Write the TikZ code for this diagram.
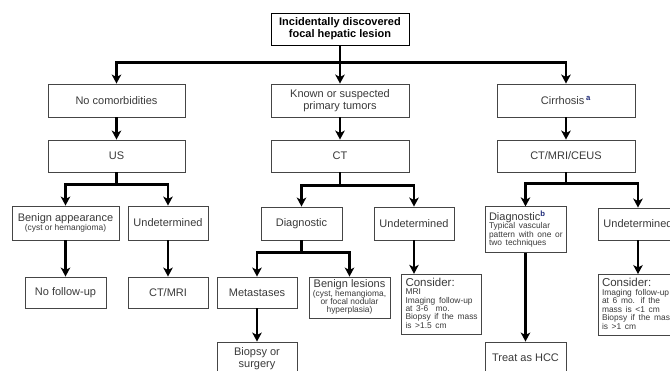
\documentclass[tikz,border=0pt]{standalone}
\usepackage{fontspec}
\setmainfont{Liberation Sans}
\usetikzlibrary{arrows.meta}
\definecolor{txt}{HTML}{3A3A3A}
\definecolor{edge}{HTML}{454545}
\definecolor{supc}{HTML}{1E2A78}
\newcommand{\smalltxt}{\fontsize{8.4}{7.9}\selectfont}
\newcommand{\bigtxt}{\fontsize{11}{12}\selectfont}
\newcommand{\midtxt}{\fontsize{11.5}{12}\selectfont}
\newcommand{\supmark}[1]{\textsuperscript{\textcolor{supc}{\textbf{#1}}}}
\newcommand{\lstack}[1]{{\smalltxt\begin{tabular}{@{}l@{}}#1\end{tabular}}}
\newcommand{\cstack}[1]{{\smalltxt\begin{tabular}{@{}c@{}}#1\end{tabular}}}
\begin{document}
\begin{tikzpicture}[x=1pt,y=-1pt,
  bx/.style={draw=edge,line width=0.9pt,text=txt,font=\bigtxt,inner sep=2pt,align=center},
  w80/.style={minimum width=80pt},
  w138/.style={minimum width=138pt},
  lbox/.style={bx,align=left,inner sep=4pt,text width=#1},
  arr/.style={line width=2.6pt,-{Stealth[length=9pt,width=9.5pt,inset=2.5pt]}}]
\useasboundingbox (0,0) rectangle (670,370);
\fill[white] (0,0) rectangle (670,370);
\clip (0,0) rectangle (670,370);

% level 0
\node[bx,draw=black,text=black,w138,minimum height=32pt,font=\bfseries\bigtxt] (top) at (340,29)
  {Incidentally discovered\\focal hepatic lesion};

% level 1
\node[bx,minimum width=137pt,minimum height=33pt] (nocom) at (116.5,100.5) {No comorbidities};
\node[bx,w138,minimum height=33pt] (known) at (340,100.5) {Known or suspected\\primary tumors};
\node[bx,w138,minimum height=33pt] (cirr) at (566,100.5) {Cirrhosis\,\supmark{a}};

% level 2
\node[bx,minimum width=137pt,minimum height=32pt] (us) at (116.5,156) {US};
\node[bx,w138,minimum height=32pt] (ct) at (340,156) {CT};
\node[bx,w138,minimum height=32pt] (cmc) at (566,156) {CT/MRI/CEUS};

% level 3
\node[bx,minimum width=107pt,minimum height=34pt] (benign) at (65.5,223)
  {\cstack{\bigtxt Benign appearance\\(cyst or hemangioma)}};
\node[bx,w80,minimum height=34pt] (und1) at (168,223) {Undetermined};
\node[bx,minimum width=81pt,minimum height=33pt] (diag) at (301.5,223.5) {Diagnostic};
\node[bx,w80,minimum height=33pt] (und2) at (414,223.5) {Undetermined};
\node[lbox=73pt,minimum height=43pt] (diagb) at (525.5,229.5)
  {\lstack{\bigtxt Diagnostic\supmark{b}\\Typical vascular\\pattern with one or\\two techniques}};
\node[bx,w80,minimum height=32pt] (und3) at (638,224) {Undetermined};

% level 4
\node[bx,minimum width=81pt,minimum height=31pt] (nofu) at (65.5,292.5) {No follow-up};
\node[bx,w80,minimum height=31pt] (ctmri) at (168,292.5) {CT/MRI};
\node[bx,w80,minimum height=31pt] (meta) at (257,292.5) {Metastases};
\node[bx,minimum width=81pt,minimum height=41pt] (benles) at (349.5,297.5)
  {\cstack{\bigtxt Benign lesions\\(cyst, hemangioma,\\or focal nodular\\hyperplasia)}};
\node[lbox=72pt,minimum height=59pt] (cons1) at (441.5,304.5)
  {\lstack{\midtxt Consider:\\MRI\\Imaging follow-up\\at 3-6~ mo.\\Biopsy if the mass\\is >1.5 cm}};
\node[lbox=72pt,minimum height=58pt] (cons2) at (638,305)
  {\lstack{\midtxt Consider:\\Imaging follow-up\\at 6 mo. if the\\mass is <1 cm\\Biopsy if the mass\\is >1 cm}};

% level 5
\node[bx,w80,minimum height=34pt] (biopsy) at (257,359) {Biopsy or\\surgery};
\node[bx,minimum width=81pt,minimum height=31pt] (hcc) at (525.5,357.5) {Treat as HCC};

% connectors
\draw[arr] (top.south) -- ++(0,17) -| (nocom.north);
\draw[arr] (top.south) -- (known.north);
\draw[arr] (top.south) -- ++(0,17) -| (cirr.north);

\draw[arr] (nocom.south) -- (us.north);
\draw[arr] (known.south) -- (ct.north);
\draw[arr] (cirr.south) -- (cmc.north);

\draw[arr] (us.south) -- ++(0,12) -| (benign.north);
\draw[arr] (us.south) -- ++(0,12) -| (und1.north);
\draw[arr] (ct.south) -- ++(0,13) -| (diag.north);
\draw[arr] (ct.south) -- ++(0,13) -| (und2.north);
\draw[arr] (cmc.south) -- ++(0,11) -| (diagb.north);
\draw[arr] (cmc.south) -- ++(0,11) -| (und3.north);

\draw[arr] (benign.south) -- (nofu.north);
\draw[arr] (und1.south) -- (ctmri.north);
\draw[arr] (diag.south) -- ++(0,12) -| (meta.north);
\draw[arr] (diag.south) -- ++(0,12) -| (benles.north);
\draw[arr] (und2.south) -- (und2.south |- cons1.north);
\draw[arr] (und3.south) -- (cons2.north);
\draw[arr] (meta.south) -- (biopsy.north);
\draw[arr] (diagb.south) -- (hcc.north);
\end{tikzpicture}
\end{document}
